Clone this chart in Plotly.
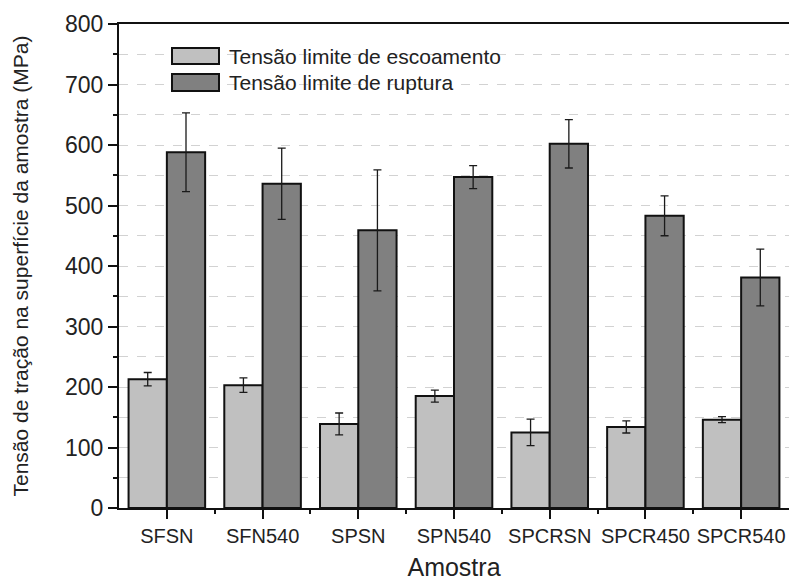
import plotly.graph_objects as go

categories = ["SFSN", "SFN540", "SPSN", "SPN540", "SPCRSN", "SPCR450", "SPCR540"]
yield_vals = [213, 203, 139, 185, 125, 134, 146]
yield_err = [11, 12, 18, 10, 22, 10, 5]
rupture_vals = [588, 536, 459, 547, 602, 483, 381]
rupture_err = [65, 59, 100, 19, 40, 33, 47]
series_names = ["Tensão limite de escoamento", "Tensão limite de ruptura"]
y_ticks = [0, 100, 200, 300, 400, 500, 600, 700, 800]

FONT = "Liberation Sans, Arial, sans-serif"
LIGHT = "#c0c0c0"
DARK = "#808080"

W, H = 789, 582
L, R, T, B = 119, 0, 24, 74
PW, PH = W - L - R, H - T - B


def px(x):
    return (x - L) / PW


def py(y):
    return (H - B - y) / PH


fig = go.Figure()
fig.add_trace(go.Bar(
    x=categories, y=yield_vals, name=series_names[0],
    marker=dict(color=LIGHT, line=dict(color="#111", width=2)),
    error_y=dict(type="data", array=yield_err, color="#1a1a1a", thickness=1.3, width=4),
))
fig.add_trace(go.Bar(
    x=categories, y=rupture_vals, name=series_names[1],
    marker=dict(color=DARK, line=dict(color="#111", width=2)),
    error_y=dict(type="data", array=rupture_err, color="#1a1a1a", thickness=1.3, width=4),
))

# boundary minor ticks between categories
fig.add_trace(go.Scatter(x=[-0.5, 6.5], y=[None, None], xaxis="x2", yaxis="y",
                         mode="markers", showlegend=False, hoverinfo="skip"))

shapes = [
    dict(type="rect", xref="paper", yref="paper", x0=px(150), x1=px(540),
         y0=py(100), y1=py(30), fillcolor="white", line=dict(width=0), layer="between"),
    dict(type="rect", xref="paper", yref="paper", x0=px(172), x1=px(219),
         y0=py(64), y1=py(48), fillcolor=LIGHT, line=dict(color="#111", width=2), layer="above"),
    dict(type="rect", xref="paper", yref="paper", x0=px(172), x1=px(219),
         y0=py(91), y1=py(74), fillcolor=DARK, line=dict(color="#111", width=2), layer="above"),
]
annotations = [
    dict(xref="paper", yref="paper", x=px(227), y=py(56), text=series_names[0],
         xanchor="left", yanchor="middle", showarrow=False,
         font=dict(family=FONT, size=21, color="#222")),
    dict(xref="paper", yref="paper", x=px(227), y=py(82.5), text=series_names[1],
         xanchor="left", yanchor="middle", showarrow=False,
         font=dict(family=FONT, size=21, color="#222")),
]

fig.update_layout(
    width=W, height=H,
    margin=dict(l=L, r=R, t=T, b=B, pad=0),
    paper_bgcolor="white", plot_bgcolor="white",
    barmode="group", bargap=0.2, bargroupgap=0,
    showlegend=False,
    font=dict(family=FONT, color="#222"),
    shapes=shapes, annotations=annotations,
    xaxis=dict(
        type="category", range=[-0.5, 6.5],
        showline=True, linecolor="#111", linewidth=2, mirror=True,
        ticks="outside", ticklen=9, tickwidth=1.5, tickcolor="#111",
        tickfont=dict(size=20, color="#222"),
        showgrid=False, zeroline=False,
        title=dict(text="Amostra", font=dict(size=25, color="#222"), standoff=12),
    ),
    xaxis2=dict(
        overlaying="x", anchor="y", side="bottom", range=[-0.5, 6.5],
        tickvals=[0.5, 1.5, 2.5, 3.5, 4.5, 5.5], showticklabels=False,
        ticks="outside", ticklen=5, tickwidth=1.5, tickcolor="#111",
        showgrid=False, zeroline=False, showline=False,
    ),
    yaxis=dict(
        range=[0, 800], tickvals=y_ticks,
        showline=True, linecolor="#111", linewidth=2, mirror=False,
        ticks="outside", ticklen=9, tickwidth=1.5, tickcolor="#111",
        tickfont=dict(size=23, color="#222"),
        showgrid=True, gridcolor="#d2d2d2", gridwidth=1, griddash="dash",
        minor=dict(dtick=50, tick0=0, ticks="outside", ticklen=4, tickwidth=1.5,
                   tickcolor="#111", showgrid=True, gridcolor="#d2d2d2",
                   gridwidth=1, griddash="dash"),
        zeroline=False,
        title=dict(text="Tensão de tração na superfície da amostra (MPa)",
                   font=dict(size=21, color="#222"), standoff=31),
    ),
)

fig.write_html("out.html", config={"displayModeBar": False},
               post_script="document.body.style.margin='0';document.body.style.overflow='hidden';")
